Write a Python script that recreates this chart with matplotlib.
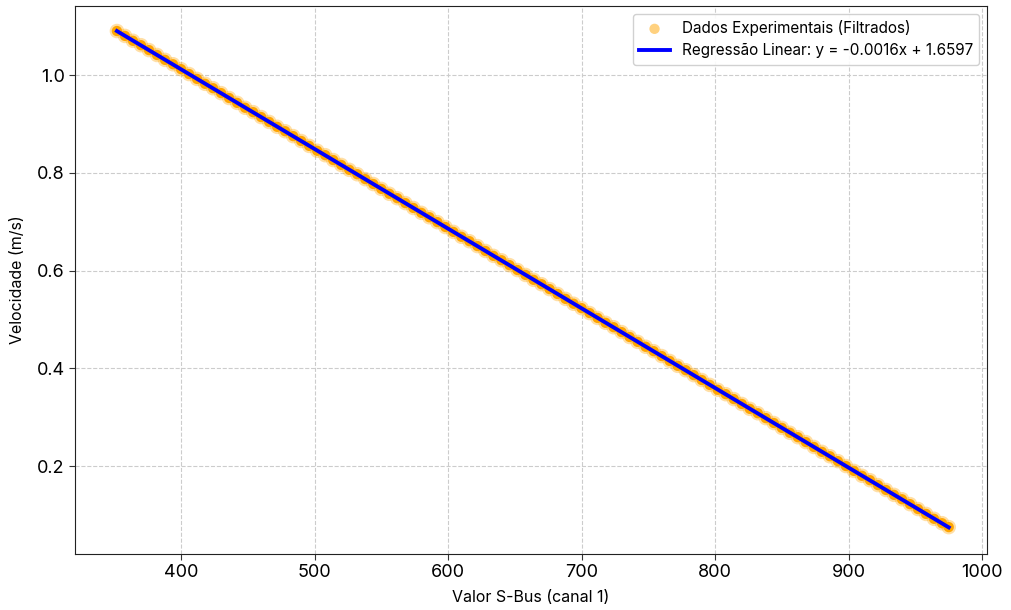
import numpy as np
import matplotlib
matplotlib.use("Agg")
import matplotlib.pyplot as plt

plt.rcParams['font.family'] = ['Inter', 'DejaVu Sans']

sbus = [352, 358, 364, 370, 376, 382, 388, 394, 400, 406,
        412, 418, 424, 430, 436, 442, 448, 454, 460, 466,
        472, 478, 484, 490, 496, 502, 508, 514, 520, 526,
        532, 538, 544, 550, 556, 562, 568, 574, 580, 586,
        592, 598, 604, 610, 616, 622, 628, 634, 640, 646,
        652, 658, 664, 670, 676, 682, 688, 694, 700, 706,
        712, 718, 724, 730, 736, 742, 748, 754, 760, 766,
        772, 778, 784, 790, 796, 802, 808, 814, 820, 826,
        832, 838, 844, 850, 856, 862, 868, 874, 880, 886,
        892, 898, 904, 910, 916, 922, 928, 934, 940, 946,
        952, 958, 964, 970, 975]
velocidade = [1.090, 1.080, 1.070, 1.061, 1.051, 1.041, 1.031, 1.022, 1.012, 1.002,
              0.992, 0.982, 0.973, 0.963, 0.953, 0.943, 0.933, 0.924, 0.914, 0.904,
              0.894, 0.885, 0.875, 0.865, 0.855, 0.845, 0.836, 0.826, 0.816, 0.806,
              0.797, 0.787, 0.777, 0.767, 0.757, 0.748, 0.738, 0.728, 0.718, 0.709,
              0.699, 0.689, 0.679, 0.669, 0.660, 0.650, 0.640, 0.630, 0.621, 0.611,
              0.601, 0.591, 0.581, 0.572, 0.562, 0.552, 0.542, 0.532, 0.523, 0.513,
              0.503, 0.493, 0.484, 0.474, 0.464, 0.454, 0.444, 0.435, 0.425, 0.415,
              0.405, 0.396, 0.386, 0.376, 0.366, 0.356, 0.347, 0.337, 0.327, 0.317,
              0.308, 0.298, 0.288, 0.278, 0.268, 0.259, 0.249, 0.239, 0.229, 0.220,
              0.210, 0.200, 0.190, 0.180, 0.171, 0.161, 0.151, 0.141, 0.132, 0.122,
              0.112, 0.102, 0.092, 0.083, 0.075]

scatter_label = 'Dados Experimentais (Filtrados)'
line_label = 'Regressão Linear: y = -0.0016x + 1.6597'

x = np.array(sbus, dtype=float)
y = np.array(velocidade)
slope, intercept = np.polyfit(x, y, 1)
xfit = np.array([x.min(), x.max()])
yfit = slope * xfit + intercept

fig = plt.figure(figsize=(10.11, 6.10), dpi=100)
ax = fig.add_axes([0.0742, 0.0918, 0.9021, 0.8982])

ax.scatter(x, y, s=55, color='orange', alpha=1.0, edgecolors='none',
           label=scatter_label, zorder=2)
ax.scatter(x, y, s=110, color='orange', alpha=0.35, edgecolors='none', zorder=1)
ax.plot(xfit, yfit, color='blue', linewidth=2.8, label=line_label, zorder=3)

ax.set_xlim(320.6, 1003.7)
ax.set_ylim(0.02, 1.141)
ax.set_xticks([400, 500, 600, 700, 800, 900, 1000])
ax.set_yticks([0.2, 0.4, 0.6, 0.8, 1.0])
ax.tick_params(labelsize=13, length=4, color='#333333')
for s in ax.spines.values():
    s.set_color('#222222')
ax.set_xlabel('Valor S-Bus (canal 1)', fontsize=11.5, labelpad=6)
ax.set_ylabel('Velocidade (m/s)', fontsize=11.5, labelpad=8)
ax.grid(True, linestyle='--', color='#cccccc', linewidth=0.8)
ax.set_axisbelow(True)
leg = ax.legend(loc='upper right', fontsize=11, framealpha=0.9)
for h in leg.legend_handles:
    if hasattr(h, 'get_offsets'):
        h.set_alpha(0.5)

fig.savefig('out.png', dpi=100)
